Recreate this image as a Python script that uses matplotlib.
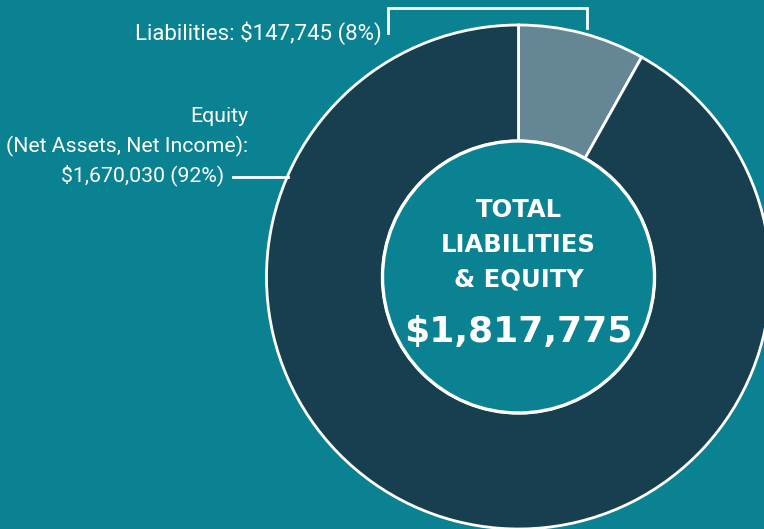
import matplotlib.pyplot as plt
from matplotlib.patches import Circle

# data
labels = ["Liabilities", "Equity"]
values = [147745, 1670030]
shares = [8, 92]
total = 1817775

BG = "#0a8291"
DARK = "#173f4f"
LIGHT = "#658695"
W, H = 764, 529

fig = plt.figure(figsize=(W / 100, H / 100), dpi=100)
fig.patch.set_facecolor(BG)
ax = fig.add_axes([0, 0, 1, 1])
ax.set_facecolor(BG)

cx, cy = 518.5, H - 277
r_out, r_in = 252, 136

ax.pie(values, colors=[LIGHT, DARK], startangle=90, counterclock=False,
       center=(cx, cy), radius=r_out, frame=True,
       wedgeprops=dict(width=r_out - r_in, edgecolor="white", linewidth=2))
ax.set_xlim(0, W)
ax.set_ylim(0, H)
ax.set_aspect("equal")
ax.axis("off")
ax.add_patch(Circle((cx, cy), r_in, facecolor=BG, edgecolor="white", lw=2.4, zorder=5))

label_font = ["Roboto", "DejaVu Sans"]

# liabilities label + bracket
ax.text(382, H - 40, f"{labels[0]}: ${values[0]:,} ({shares[0]}%)", ha="right", va="baseline",
        color="white", fontsize=16, family=label_font)
ax.plot([388, 388, 587, 587], [H - 33, H - 8, H - 8, H - 28], color="white", lw=2,
        solid_joinstyle="miter")

# equity label + line
ax.text(248, H - 122, labels[1], ha="right", va="baseline", color="white",
        fontsize=15.3, family=label_font)
ax.text(248, H - 152, "(Net Assets, Net Income):", ha="right", va="baseline", color="white",
        fontsize=15.3, family=label_font)
ax.text(224, H - 181, f"${values[1]:,} ({shares[1]}%)", ha="right", va="baseline",
        color="white", fontsize=15.3, family=label_font)
ax.plot([233, 288], [H - 177, H - 177], color="white", lw=2)

# center text
center_font = ["DejaVu Sans"]
for txt, y in [("TOTAL", 217), ("LIABILITIES", 252), ("& EQUITY", 286)]:
    ax.text(cx, H - y, txt, ha="center", va="baseline", color="white", fontsize=17.5,
            fontweight="bold", family=center_font, zorder=6)
ax.text(cx, H - 342, f"${total:,}", ha="center", va="baseline", color="white", fontsize=26,
        fontweight="bold", family=center_font, zorder=6)

fig.savefig("out.png", dpi=100, facecolor=BG)
